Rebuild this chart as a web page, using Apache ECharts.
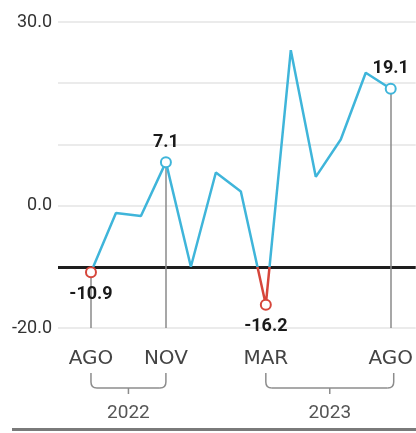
<!DOCTYPE html>
<html>
<head>
<meta charset="utf-8">
<script src="https://cdn.jsdelivr.net/npm/echarts@6/dist/echarts.min.js"></script>
<style>
html,body{margin:0;padding:0;background:#fff;}
#chart{width:416px;height:433px;}
</style>
</head>
<body>
<div id="chart"></div>
<script>
// ---- data ----
var months = ['AGO','SEP','OCT','NOV','DIC','ENE','FEB','MAR','ABR','MAY','JUN','JUL','AGO'];
var values = [-10.9, -1.2, -1.7, 7.1, -10.0, 5.4, 2.3, -16.2, 25.4, 4.7, 10.8, 21.7, 19.1];
var shownMonthIdx = [0, 3, 7, 12];
var markedIdx = [0, 3, 7, 12];
var labelBelowIdx = [0, 7];
var guideIdx = [0, 3, 12];
var yTickLabels = [-20, 0, 30];
var yearLabels = ['2022', '2023'];
var yearStart = [0, 7];
var yearEnd = [3, 12];
var threshold = -10;

var BLUE = '#3fb5da', RED = '#d6463b';

var seriesData = values.map(function (v, i) {
  var item = { value: [i, v], symbol: 'none' };
  if (markedIdx.indexOf(i) >= 0) {
    item.symbol = 'emptyCircle';
    item.symbolSize = 10;
    var below = labelBelowIdx.indexOf(i) >= 0;
    item.label = {
      show: true,
      position: below ? 'bottom' : 'top',
      distance: below ? 7 : 5,
      formatter: function (p) { return p.value[1].toFixed(1); },
      color: '#1a1a1a', fontWeight: 'bold', fontSize: 18,
      fontFamily: 'Roboto, sans-serif'
    };
  }
  return item;
});

var guideLines = guideIdx.map(function (i) {
  return [
    { coord: [i, values[i]], lineStyle: { color: '#8a8a8a', width: 1.5, type: 'solid' } },
    { coord: [i, -20] }
  ];
});

var chart = echarts.init(document.getElementById('chart'), null, { renderer: 'canvas' });
chart.setOption({
  animation: false,
  grid: { left: 58, right: 0, top: 22, bottom: 105, containLabel: false },
  xAxis: {
    type: 'value', min: -1.32, max: 13,
    axisLine: { show: false }, axisTick: { show: false }, splitLine: { show: false },
    axisLabel: {
      customValues: shownMonthIdx,
      formatter: function (v) { return months[Math.round(v)]; },
      color: '#444', fontSize: 20, margin: 21,
      fontFamily: '"DejaVu Sans", sans-serif'
    }
  },
  yAxis: {
    type: 'value', min: -20, max: 30, interval: 10,
    axisLine: { show: false }, axisTick: { show: false },
    splitLine: { lineStyle: { color: '#e4e4e4', width: 1.5 } },
    axisLabel: {
      customValues: yTickLabels,
      formatter: function (v) { return v.toFixed(1); },
      color: '#333', fontSize: 18, margin: 6,
      fontFamily: '"Liberation Sans Narrow", "Roboto", sans-serif'
    }
  },
  visualMap: {
    type: 'piecewise', show: false, dimension: 1, seriesIndex: 0,
    pieces: [{ gte: -100, lt: threshold, color: RED }, { gte: threshold, lte: 100, color: BLUE }]
  },
  series: [{
    type: 'line',
    data: seriesData,
    lineStyle: { width: 2.5 },
    itemStyle: { borderWidth: 2 },
    z: 5
  }, {
    type: 'line',
    data: [],
    silent: true,
    z: 3,
    markLine: {
      silent: true, symbol: 'none', animation: false,
      label: { show: false },
      data: [
        { yAxis: threshold, lineStyle: { color: '#1e1e1e', width: 2.8, type: 'solid' } }
      ].concat(guideLines)
    }
  }]
});

// year brackets under the month labels
var gfx = [];
var STROKE = { stroke: '#8c8c8c', lineWidth: 1.5, fill: null };
var base = chart.convertToPixel({ xAxisIndex: 0, yAxisIndex: 0 }, [0, -20])[1];
yearLabels.forEach(function (yl, k) {
  var x1 = chart.convertToPixel({ xAxisIndex: 0, yAxisIndex: 0 }, [yearStart[k], 0])[0];
  var x2 = chart.convertToPixel({ xAxisIndex: 0, yAxisIndex: 0 }, [yearEnd[k], 0])[0] + (k === 1 ? 3 : 0);
  var cx = (x1 + x2) / 2;
  var yt = base + 45, yh = base + 60, r = 6;
  gfx.push({ type: 'line', shape: { x1: x1, y1: yt, x2: x1, y2: yh - r }, style: STROKE });
  gfx.push({ type: 'bezierCurve', shape: { x1: x1, y1: yh - r, cpx1: x1, cpy1: yh, x2: x1 + r, y2: yh }, style: STROKE });
  gfx.push({ type: 'line', shape: { x1: x1 + r, y1: yh, x2: x2 - r, y2: yh }, style: STROKE });
  gfx.push({ type: 'bezierCurve', shape: { x1: x2 - r, y1: yh, cpx1: x2, cpy1: yh, x2: x2, y2: yh - r }, style: STROKE });
  gfx.push({ type: 'line', shape: { x1: x2, y1: yh - r, x2: x2, y2: yt }, style: STROKE });
  gfx.push({ type: 'line', shape: { x1: cx, y1: yh, x2: cx, y2: yh + 6 }, style: STROKE });
  gfx.push({ type: 'text', x: cx, y: base + 85, style: { text: yl, fill: '#555', font: '19px "Liberation Sans Narrow", Roboto, sans-serif', align: 'center', verticalAlign: 'middle' } });
});
gfx.push({ type: 'rect', shape: { x: 12, y: 428, width: 404, height: 3 }, style: { fill: '#7a7a7a' } });
chart.setOption({ graphic: gfx });
</script>
</body>
</html>
